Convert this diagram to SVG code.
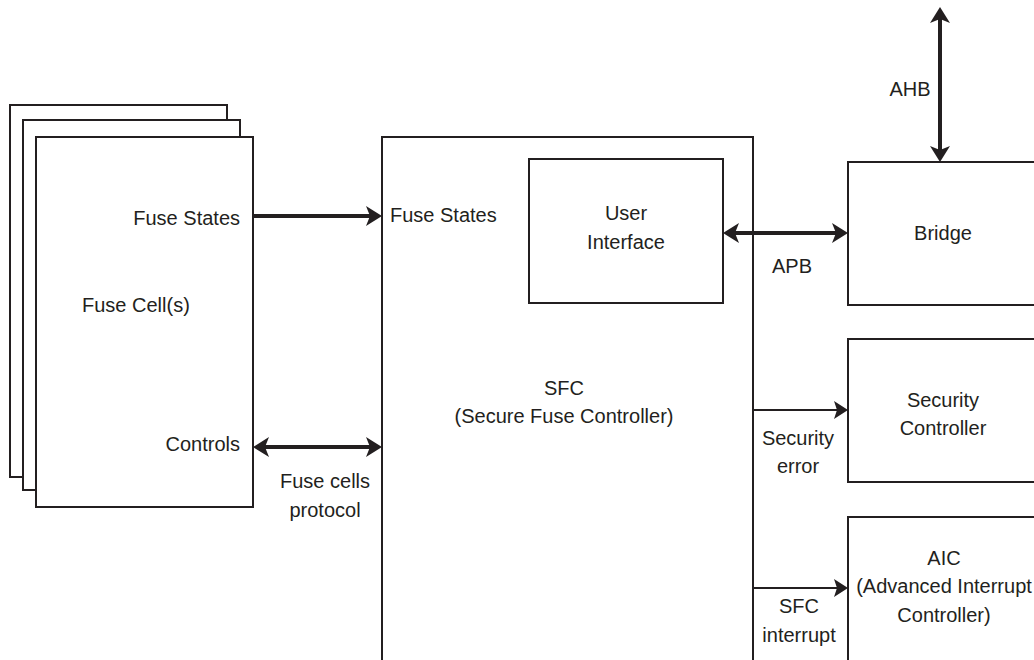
<svg xmlns="http://www.w3.org/2000/svg" width="1034" height="660" viewBox="0 0 1034 660">
<style>
.box{fill:#fff;stroke:#231f20;stroke-width:2}
.t{font-family:"Liberation Sans",Arial,sans-serif;font-size:20px;fill:#231f20}
.m{text-anchor:middle}
.e{text-anchor:end}
.thick{stroke:#231f20;stroke-width:4;fill:none}
.thin{stroke:#231f20;stroke-width:2;fill:none}
</style>
<defs>
<marker id="ah" markerUnits="userSpaceOnUse" viewBox="0 0 16 20" refX="10" refY="10" markerWidth="16" markerHeight="20" orient="auto-start-reverse">
<path d="M0,0 L16,10 L0,20 L4,10 Z" fill="#231f20"/>
</marker>
<marker id="as" markerUnits="userSpaceOnUse" viewBox="0 0 14 18" refX="10" refY="9" markerWidth="14" markerHeight="18" orient="auto">
<path d="M0,0 L14,9 L0,18 L3,9 Z" fill="#231f20"/>
</marker>
</defs>
<rect width="1034" height="660" fill="#fff"/>

<g id="fuse-cells">
<rect class="box" x="10" y="105" width="217" height="372"/>
<rect class="box" x="23" y="120" width="217" height="370"/>
<rect class="box" x="36" y="137" width="217" height="370"/>
<text class="t e" x="240" y="225">Fuse States</text>
<text class="t" x="82" y="312">Fuse Cell(s)</text>
<text class="t e" x="240" y="451">Controls</text>
</g>

<g id="sfc">
<rect class="box" x="382" y="137" width="371" height="560"/>
<text class="t" x="390" y="222">Fuse States</text>
<text class="t m" x="564" y="395">SFC</text>
<text class="t m" x="564" y="423">(Secure Fuse Controller)</text>
</g>

<g id="user-interface">
<rect class="box" x="529" y="159" width="194" height="144"/>
<text class="t m" x="626" y="220">User</text>
<text class="t m" x="626" y="249">Interface</text>
</g>

<g id="bridge">
<rect class="box" x="848" y="162" width="200" height="143"/>
<text class="t m" x="943" y="240">Bridge</text>
</g>

<g id="security-controller">
<rect class="box" x="848" y="339" width="200" height="143"/>
<text class="t m" x="943" y="407">Security</text>
<text class="t m" x="943" y="435">Controller</text>
</g>

<g id="aic">
<rect class="box" x="848" y="517" width="200" height="180"/>
<text class="t m" x="944" y="565">AIC</text>
<text class="t m" x="944" y="593">(Advanced Interrupt</text>
<text class="t m" x="944" y="622">Controller)</text>
</g>

<g id="connectors">
<line class="thick" x1="253" y1="216" x2="376" y2="216" marker-end="url(#ah)"/>
<line class="thick" x1="259" y1="447" x2="376" y2="447" marker-start="url(#ah)" marker-end="url(#ah)"/>
<line class="thick" x1="729" y1="233" x2="842" y2="233" marker-start="url(#ah)" marker-end="url(#ah)"/>
<line class="thick" x1="940" y1="13" x2="940" y2="156" marker-start="url(#ah)" marker-end="url(#ah)"/>
<line class="thin" x1="754" y1="410" x2="844" y2="410" marker-end="url(#as)"/>
<line class="thin" x1="754" y1="588" x2="844" y2="588" marker-end="url(#as)"/>
<text class="t m" x="325" y="488">Fuse cells</text>
<text class="t m" x="325" y="517">protocol</text>
<text class="t m" x="792" y="273">APB</text>
<text class="t m" x="910" y="96">AHB</text>
<text class="t m" x="798" y="445">Security</text>
<text class="t m" x="798" y="473">error</text>
<text class="t m" x="799" y="613">SFC</text>
<text class="t m" x="799" y="642">interrupt</text>
</g>
</svg>
